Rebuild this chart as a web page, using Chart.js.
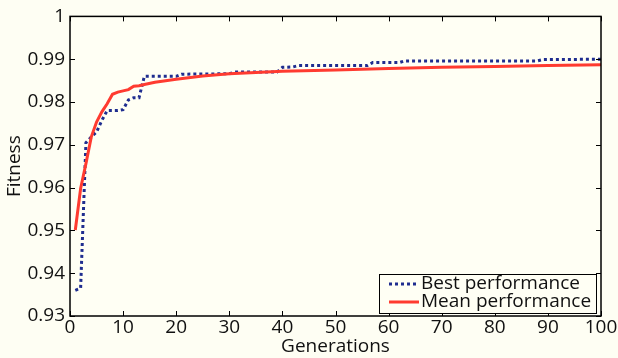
<!DOCTYPE html>
<html>
<head>
<meta charset="utf-8">
<script src="https://cdn.jsdelivr.net/npm/chart.js@4.4.1/dist/chart.umd.min.js"></script>
<style>
  html, body { margin: 0; padding: 0; background: #fefef3; }
  #wrap { width: 618px; height: 358px; position: relative; }
</style>
</head>
<body>
<div id="wrap"><canvas id="c" width="618" height="358"></canvas></div>
<script>
// ---- data ----
const bestGenerations = [1, 2, 3, 4, 5, 6, 7, 8, 9, 10, 11, 12, 13, 14, 20, 21, 30, 31, 39, 40, 42, 43, 56, 57, 62, 63, 88, 89, 100];
const bestValues      = [0.936, 0.9365, 0.9705, 0.9718, 0.973, 0.9757, 0.978, 0.978, 0.978, 0.9782, 0.9805, 0.981, 0.981, 0.986, 0.986, 0.9865, 0.9866, 0.987, 0.987, 0.9881, 0.9882, 0.9885, 0.9885, 0.9892, 0.9892, 0.9896, 0.9896, 0.9899, 0.990];

const meanGenerations = [1, 2, 3, 4, 5, 6, 7, 8, 9, 10, 11, 12, 13, 14, 16, 20, 25, 30, 40, 50, 60, 70, 80, 90, 100];
const meanValues      = [0.9501, 0.9598, 0.9656, 0.9718, 0.9753, 0.9777, 0.9796, 0.9818, 0.9823, 0.9826, 0.9829, 0.9837, 0.9838, 0.9841, 0.9846, 0.9853, 0.9861, 0.9866, 0.9872, 0.9875, 0.9878, 0.9881, 0.9883, 0.9885, 0.9887];

const seriesNames = ['Best performance', 'Mean performance'];
const xAxisTitle = 'Generations';
const yAxisTitle = 'Fitness';

// ---- styles ----
const BLUE = '#1f2d8f';
const RED = '#ff3b30';
const FONT = "'Open Sans', 'DejaVu Sans', sans-serif";

Chart.defaults.font.family = FONT;
Chart.defaults.font.size = 19;
Chart.defaults.color = '#111';

function toPoints(xs, ys) { return xs.map((x, i) => ({ x: x, y: ys[i] })); }

const boxPlugin = {
  id: 'boxPlugin',
  beforeDraw(chart) {
    const { ctx, chartArea: a } = chart;
    ctx.save();
    ctx.fillStyle = '#fffff4';
    ctx.fillRect(a.left, a.top, a.right - a.left, a.bottom - a.top);
    ctx.restore();
  },
  afterDraw(chart) {
    const { ctx, chartArea: a, scales } = chart;
    ctx.save();
    ctx.strokeStyle = '#000';
    ctx.lineWidth = 1.5;
    ctx.strokeRect(a.left, a.top, a.right - a.left, a.bottom - a.top);
    ctx.lineWidth = 1;
    const tl = 5;
    ctx.beginPath();
    scales.x.ticks.forEach(t => {
      const px = Math.round(scales.x.getPixelForValue(t.value)) + 0.5;
      ctx.moveTo(px, a.bottom); ctx.lineTo(px, a.bottom - tl);
      ctx.moveTo(px, a.top); ctx.lineTo(px, a.top + tl);
    });
    scales.y.ticks.forEach(t => {
      const py = Math.round(scales.y.getPixelForValue(t.value)) + 0.5;
      ctx.moveTo(a.left, py); ctx.lineTo(a.left + tl, py);
      ctx.moveTo(a.right, py); ctx.lineTo(a.right - tl, py);
    });
    ctx.stroke();

    // legend box inside plot area
    const w = 217, h = 39;
    const lx = a.right - 5 - w, ly = a.bottom - 3 - h;
    ctx.fillStyle = '#fffff4';
    ctx.fillRect(lx, ly, w, h);
    ctx.strokeStyle = '#000';
    ctx.lineWidth = 1;
    ctx.strokeRect(lx + 0.5, ly + 0.5, w, h);
    chart.data.datasets.forEach((ds, i) => {
      const yy = ly + 10 + i * 18;
      ctx.beginPath();
      ctx.strokeStyle = ds.borderColor;
      ctx.lineWidth = ds.borderWidth;
      ctx.setLineDash(ds.borderDash || []);
      ctx.moveTo(lx + 10, yy); ctx.lineTo(lx + 40, yy);
      ctx.stroke();
      ctx.setLineDash([]);
      ctx.fillStyle = '#111';
      ctx.font = '19px ' + FONT;
      ctx.textBaseline = 'middle';
      ctx.textAlign = 'left';
      ctx.fillText(ds.label, lx + 42, yy);
    });
    ctx.restore();
  }
};

new Chart(document.getElementById('c'), {
  type: 'line',
  data: {
    datasets: [
      { label: seriesNames[0], data: toPoints(bestGenerations, bestValues), borderColor: BLUE, backgroundColor: BLUE, borderWidth: 3, borderDash: [3, 3], borderCapStyle: 'butt', pointRadius: 0, tension: 0, fill: false, order: 2 },
      { label: seriesNames[1], data: toPoints(meanGenerations, meanValues), borderColor: RED, backgroundColor: RED, borderWidth: 3, pointRadius: 0, tension: 0, fill: false, order: 1 }
    ]
  },
  options: {
    responsive: false,
    animation: false,
    layout: { padding: { left: 0, right: 17, top: 16, bottom: 0 } },
    plugins: { legend: { display: false }, tooltip: { enabled: false } },
    scales: {
      x: {
        type: 'linear', min: 0, max: 100,
        ticks: { stepSize: 10, padding: 0, maxRotation: 0, autoSkip: false, color: '#111' },
        grid: { display: true, drawOnChartArea: false, drawTicks: false },
        border: { display: false },
        title: { display: true, text: xAxisTitle, padding: { top: -5, bottom: 0 }, color: '#111', font: { size: 19 } },
        afterFit(s) { s.height = 42; }
      },
      y: {
        type: 'linear', min: 0.93, max: 1,
        ticks: { stepSize: 0.01, padding: 5, color: '#111', callback: v => String(Number(v.toFixed(2))) },
        grid: { display: true, drawOnChartArea: false, drawTicks: false },
        border: { display: false },
        title: { display: true, text: yAxisTitle, padding: { top: 3, bottom: 0 }, color: '#111', font: { size: 19 } },
        afterFit(s) { s.width = 70; }
      }
    }
  },
  plugins: [boxPlugin]
});
</script>
</body>
</html>
